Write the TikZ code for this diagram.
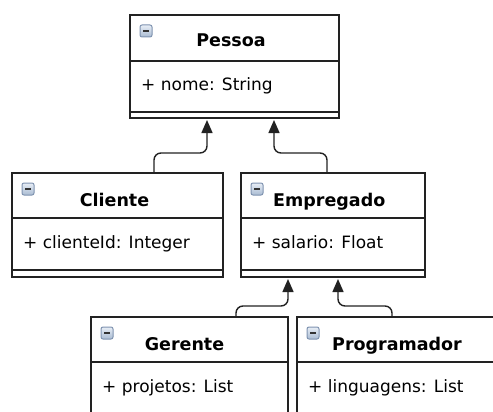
\documentclass[tikz,border=0pt]{standalone}
\usepackage{fontspec}
\setmainfont{DejaVu Sans}
\usetikzlibrary{calc,arrows.meta}
\definecolor{edge}{HTML}{222222}
\definecolor{iconA}{HTML}{E8EEF6}
\definecolor{iconB}{HTML}{A9BBD2}
\definecolor{iconE}{HTML}{7F93B0}
\tikzset{
  cls/.style={draw=edge, line width=1.6pt, fill=white, rectangle, inner sep=0pt, outer sep=0pt, anchor=north west},
  sepline/.style={draw=edge, line width=1.6pt},
  ttl/.style={font=\fontsize{17.5}{20}\selectfont\bfseries, inner sep=0pt},
  attr/.style={font=\fontsize{17}{20}\selectfont, anchor=base west, inner sep=0pt},
  gen/.style={draw=edge, line width=1.4pt, rounded corners=7pt, -{Triangle[length=13pt,width=11pt]}},
  minusicon/.pic={
    \shade[top color=iconA, bottom color=iconB, draw=iconE, line width=1pt, rounded corners=2pt] (0,0) rectangle (12,12);
    \draw[line width=2.2pt, draw=black!80] (3,6) -- (9,6);
  }
}
\begin{document}
\begin{tikzpicture}[x=1pt,y=-1pt]
\useasboundingbox (0,0) rectangle (493,412);
\clip (0,0) rectangle (493,412);
\fill[white] (0,0) rectangle (493,412);

% Pessoa
\node[cls, minimum width=209pt, minimum height=103pt] (pessoa) at (130,15) {};
\draw[sepline] ($(pessoa.north west)+(0,46)$) -- ($(pessoa.north east)+(0,46)$);
\draw[sepline] ($(pessoa.north west)+(0,97)$) -- ($(pessoa.north east)+(0,97)$);
\pic at ($(pessoa.north west)+(10,10)$) {minusicon};
\node[ttl, anchor=base] (pessoaT) at ($(pessoa.north west)+(101,32)$) {Pessoa};
\node[attr] (pessoaA) at ($(pessoa.north west)+(11,76)$) {+ nome: String};

% Cliente
\node[cls, minimum width=211pt, minimum height=104pt] (cliente) at (12,173) {};
\draw[sepline] ($(cliente.north west)+(0,45)$) -- ($(cliente.north east)+(0,45)$);
\draw[sepline] ($(cliente.north west)+(0,97)$) -- ($(cliente.north east)+(0,97)$);
\pic at ($(cliente.north west)+(10,10)$) {minusicon};
\node[ttl, anchor=base] (clienteT) at ($(cliente.north west)+(102.5,33)$) {Cliente};
\node[attr] (clienteA) at ($(cliente.north west)+(11,75)$) {+ clienteId: Integer};

% Empregado
\node[cls, minimum width=184pt, minimum height=104pt] (empregado) at (241,173) {};
\draw[sepline] ($(empregado.north west)+(0,45)$) -- ($(empregado.north east)+(0,45)$);
\draw[sepline] ($(empregado.north west)+(0,97)$) -- ($(empregado.north east)+(0,97)$);
\pic at ($(empregado.north west)+(10,10)$) {minusicon};
\node[ttl, anchor=base west] (empregadoT) at ($(empregado.north west)+(32,33)$) {Empregado};
\node[attr] (empregadoA) at ($(empregado.north west)+(11,75)$) {+ salario: Float};

% Gerente
\node[cls, minimum width=197pt, minimum height=104pt] (gerente) at (91,317) {};
\draw[sepline] ($(gerente.north west)+(0,45)$) -- ($(gerente.north east)+(0,45)$);
\pic at ($(gerente.north west)+(10,10)$) {minusicon};
\node[ttl, anchor=base] (gerenteT) at ($(gerente.north west)+(93.5,33)$) {Gerente};
\node[attr] (gerenteA) at ($(gerente.north west)+(11,75)$) {+ projetos: List};

% Programador
\node[cls, minimum width=230pt, minimum height=104pt] (programador) at (297,317) {};
\draw[sepline] ($(programador.north west)+(0,45)$) -- ($(programador.north east)+(0,45)$);
\pic at ($(programador.north west)+(10,10)$) {minusicon};
\node[ttl, anchor=base west] (programadorT) at ($(programador.north west)+(35,33)$) {Programador};
\node[attr] (programadorA) at ($(programador.north west)+(11,75)$) {+ linguagens: List};

% Generalizations
\draw[gen] ($(cliente.north west)+(142,0)$) -- ++(0,-20) -| ($(pessoa.south west)+(77,2)$);
\draw[gen] ($(empregado.north west)+(86,0)$) -- ++(0,-20) -| ($(pessoa.south west)+(144,2)$);
\draw[gen] ($(gerente.north west)+(145,0)$) -- ++(0,-11) -| ($(empregado.south west)+(47,2)$);
\draw[gen] ($(programador.north west)+(95,0)$) -- ++(0,-11) -| ($(empregado.south west)+(97,2)$);
\end{tikzpicture}
\end{document}
